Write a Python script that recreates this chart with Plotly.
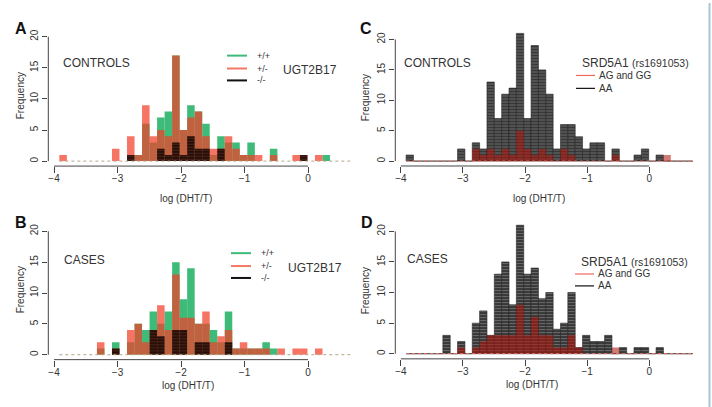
import plotly.graph_objects as go

# ---------------- data ----------------
BIN_START = -3.916
BIN_WIDTH = 0.1184
NBINS = 39

# Panel A: controls, UGT2B17   (bin index -> count)
A_pp = {10: 1, 11: 6, 12: 3, 13: 7, 14: 8, 15: 17, 16: 5, 17: 9, 18: 8, 19: 6, 20: 1, 21: 4,
        22: 3, 23: 3, 24: 1, 25: 3, 28: 2, 35: 1}
A_pm = {0: 1, 7: 2, 9: 4, 10: 1, 11: 9, 12: 4, 13: 5, 14: 4, 15: 17, 16: 5, 17: 7, 18: 8, 19: 4,
        20: 2, 21: 2, 22: 4, 23: 2, 24: 1, 25: 1, 26: 1, 28: 1, 31: 1, 32: 1, 34: 1}
A_mm = {9: 1, 13: 2, 14: 1, 15: 3, 16: 1, 17: 4, 18: 2, 19: 2, 21: 2, 32: 1}

# Panel B: cases, UGT2B17
B_pp = {5: 1, 7: 2, 9: 2, 10: 5, 11: 4, 12: 7, 13: 5, 14: 7, 15: 15, 16: 9, 17: 14, 18: 5, 19: 5,
        20: 4, 21: 2, 22: 7, 23: 1, 24: 1, 25: 1, 26: 1, 27: 2, 28: 1}
B_pm = {5: 2, 7: 1, 9: 4, 10: 5, 11: 2, 12: 4, 13: 8, 14: 4, 15: 13, 16: 6, 17: 6, 18: 5, 19: 7,
        20: 2, 21: 3, 22: 4, 23: 1, 24: 2, 25: 1, 26: 1, 27: 1, 29: 1, 31: 1, 32: 1, 34: 1}
B_mm = {7: 1, 12: 4, 13: 3, 15: 4, 16: 4, 18: 2, 19: 2, 22: 2}

# Panel C: controls, SRD5A1
C_AA = {0: 1, 7: 2, 9: 3, 10: 2, 11: 13, 12: 7, 13: 11, 14: 12, 15: 21, 16: 7, 17: 19, 18: 15,
        19: 11, 20: 2, 21: 6, 22: 6, 23: 4, 24: 2, 25: 3, 26: 3, 28: 2, 31: 1, 32: 2, 34: 1}
C_AG = {9: 2, 10: 1, 11: 2, 12: 1, 13: 2, 14: 1, 15: 5, 16: 2, 17: 1, 18: 2, 19: 1, 21: 2,
        22: 1, 28: 1, 35: 1}

# Panel D: cases, SRD5A1
D_AA = {5: 3, 7: 2, 9: 5, 10: 7, 11: 3, 12: 13, 13: 15, 14: 8, 15: 21, 16: 13, 17: 14, 18: 9,
        19: 10, 20: 4, 21: 5, 22: 10, 23: 1, 24: 3, 25: 2, 26: 2, 27: 3, 29: 1, 31: 1, 32: 1, 34: 1}
D_AG = {7: 1, 9: 1, 10: 2, 11: 3, 12: 3, 13: 3, 14: 3, 15: 8, 16: 3, 17: 6, 18: 3, 19: 3,
        20: 1, 21: 1, 22: 3, 23: 1, 28: 1}

X_TICKS = [-4, -3, -2, -1, 0]
X_TICKTEXT = ["\u22124", "\u22123", "\u22122", "\u22121", "0"]
Y_TICKS = [0, 5, 10, 15, 20]

# ---------------- helpers ----------------
W, H = 712, 407
FONT = "Liberation Sans, Arial, sans-serif"
centers = [BIN_START + (k + 0.5) * BIN_WIDTH for k in range(NBINS)]
edges = [BIN_START, BIN_START + NBINS * BIN_WIDTH]


def counts(d):
    return [d.get(k, 0) for k in range(NBINS)]


def px(x):
    return x / W


def py(y):
    return 1 - y / H


GREEN = "#3fbb79"
RED_AB = "rgba(242,62,40,0.72)"
RED_CD = "rgba(178,20,10,0.56)"

fig = go.Figure()

panels = {
    "A": dict(ax="", xd=(48.3, 363.9), yd=(29.0, 164.3), yr=[-0.8, 20.8]),
    "B": dict(ax="2", xd=(48.3, 363.9), yd=(225.0, 359.3), yr=[-0.8, 20.8]),
    "C": dict(ax="3", xd=(395.3, 703.9), yd=(25.7, 164.2), yr=[-0.8, 21.8]),
    "D": dict(ax="4", xd=(395.3, 703.9), yd=(218.7, 358.5), yr=[-0.84, 21.84]),
}
XR = [-4.09, 0.88]


def bar(values, color, ax, pattern=None, line=None):
    m = dict(color=color, line=line or dict(width=0))
    if pattern:
        m["pattern"] = pattern
    return go.Bar(x=centers, y=counts(values), width=BIN_WIDTH, marker=m,
                  xaxis="x" + ax, yaxis="y" + ax, showlegend=False, hoverinfo="skip")


def baseline(ax, color):
    return go.Scatter(x=edges, y=[0, 0], mode="lines", line=dict(color=color, width=1, dash="dot"),
                      xaxis="x" + ax, yaxis="y" + ax, showlegend=False, hoverinfo="skip")


blackAB_pat = dict(shape="-", fgcolor="#6a3a2c", size=3, solidity=0.35, fillmode="overlay")
blackCD_pat = dict(shape="-", fgcolor="#a8a8a8", size=3, solidity=0.3, fillmode="overlay")

for key, (gp, rp, bm) in {"A": (A_pp, A_pm, A_mm), "B": (B_pp, B_pm, B_mm)}.items():
    ax = panels[key]["ax"]
    fig.add_trace(baseline(ax, "#b5a58a"))
    fig.add_trace(bar(gp, GREEN, ax))
    fig.add_trace(bar(rp, RED_AB, ax))
    fig.add_trace(bar(bm, "rgba(22,6,2,0.9)", ax, pattern=blackAB_pat))

for key, (aa, ag) in {"C": (C_AA, C_AG), "D": (D_AA, D_AG)}.items():
    ax = panels[key]["ax"]
    fig.add_trace(baseline(ax, "#f07a70"))
    fig.add_trace(bar(aa, "#383838", ax, pattern=blackCD_pat,
                      line=dict(color="#222222", width=0.6)))
    fig.add_trace(bar(ag, RED_CD, ax))

layout = dict(width=W, height=H, margin=dict(l=0, r=0, t=0, b=0), barmode="overlay",
              paper_bgcolor="white", plot_bgcolor="white",
              font=dict(family=FONT, size=10, color="#333333"))
shapes = []
annotations = []
for key, p in panels.items():
    ax = p["ax"]
    layout["xaxis" + ax] = dict(domain=[px(p["xd"][0]), px(p["xd"][1])], range=XR,
                                anchor="y" + ax, showgrid=False, zeroline=False, showline=False,
                                ticks="outside", ticklen=6, tickcolor="#444", tickwidth=1,
                                tickvals=X_TICKS, ticktext=X_TICKTEXT, ticklabelstandoff=-3,
                                tickfont=dict(size=10, color="#333"))
    layout["yaxis" + ax] = dict(domain=[py(p["yd"][1]), py(p["yd"][0])], range=p["yr"],
                                anchor="x" + ax, showgrid=False, zeroline=False, showline=False,
                                ticks="outside", ticklen=5, tickcolor="#444", tickwidth=1,
                                tickvals=Y_TICKS, tickangle=-90,
                                tickfont=dict(size=10, color="#333"))
    xref = "x" + ax
    yref = "y" + ax
    shapes.append(dict(type="line", xref=xref, yref=yref + " domain", x0=X_TICKS[0], x1=X_TICKS[-1],
                       y0=0, y1=0, line=dict(color="#444", width=1)))
    shapes.append(dict(type="line", xref=xref + " domain", yref=yref, x0=0, x1=0,
                       y0=Y_TICKS[0], y1=Y_TICKS[-1], line=dict(color="#444", width=1)))


def text(x, y, s, size=10, xanchor="left", bold=False, angle=0, color="#333333"):
    annotations.append(dict(x=px(x), y=py(y), xref="paper", yref="paper", text=s, showarrow=False,
                            xanchor=xanchor, yanchor="middle", textangle=angle,
                            font=dict(family=FONT, size=size, color=color,
                                      weight="bold" if bold else "normal")))


for L, (x, y) in {"A": (20.5, 26), "B": (20.5, 221.5), "C": (366, 26), "D": (366.5, 221.5)}.items():
    text(x, y, L, size=16, xanchor="center", bold=True, color="#111")

for (x, y) in [(20, 94), (20.5, 289), (365, 95), (365.5, 290)]:
    text(x, y, "Frequency", size=10, xanchor="center", angle=-90)
for (x, y) in [(185.5, 197), (188, 385), (538.5, 197), (531.5, 384)]:
    text(x, y, "log (DHT/T)", size=10, xanchor="center")

text(61, 60, "CONTROLS", size=12)
text(62, 259, "CASES", size=12)
text(402, 60, "CONTROLS", size=12)
text(405, 258, "CASES", size=12)

for (lx, ys, tx, gy) in [(227, (53, 66, 78), 281, 68), (231, (252, 265, 277), 286, 267)]:
    for yy, col, lab in zip(ys, [GREEN, "#f47868", "#111111"], ["+/+", "+/-", "-/-"]):
        shapes.append(dict(type="line", xref="paper", yref="paper", x0=px(lx), x1=px(lx + 20),
                           y0=py(yy), y1=py(yy), line=dict(color=col, width=2)))
        text(lx + 28, yy, lab, size=9)
    text(tx, gy, "UGT2B17", size=12)

for (tx, ty, lx, ys) in [(580, 60, 576, (73, 86)), (579, 261, 575, (273, 285))]:
    text(tx, ty, 'SRD5A1 <span style="font-size:10.5px">(rs1691053)</span>', size=12)
    for yy, col, lab in zip(ys, ["#f06a5c", "#111111"], ["AG and GG", "AA"]):
        shapes.append(dict(type="line", xref="paper", yref="paper", x0=px(lx), x1=px(lx + 19),
                           y0=py(yy), y1=py(yy), line=dict(color=col, width=1.2)))
        text(lx + 21, yy, lab, size=10)

shapes.append(dict(type="line", xref="paper", yref="paper", x0=px(709.5), x1=px(709.5), y0=0, y1=1,
                   line=dict(color="#a9c6d6", width=2)))

layout["shapes"] = shapes
layout["annotations"] = annotations
fig.update_layout(**layout)
fig.write_html("out.html")
